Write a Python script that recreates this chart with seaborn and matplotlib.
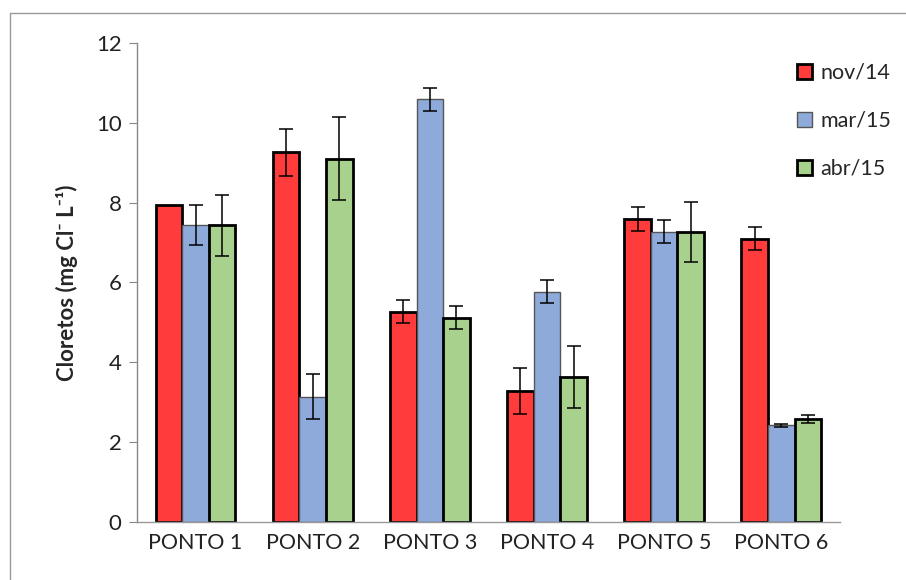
import matplotlib
matplotlib.use('Agg')
import matplotlib.pyplot as plt
from matplotlib.lines import Line2D
import numpy as np
import pandas as pd
import seaborn as sns

# Data
pontos = ['PONTO 1', 'PONTO 2', 'PONTO 3', 'PONTO 4', 'PONTO 5', 'PONTO 6']
meses = ['nov/14', 'mar/15', 'abr/15']
nov14 = [7.95, 9.26, 5.27, 3.29, 7.59, 7.10]
mar15 = [7.43, 3.14, 10.59, 5.77, 7.27, 2.42]
abr15 = [7.43, 9.10, 5.12, 3.63, 7.26, 2.58]
nov14_err = [0.0, 0.58, 0.29, 0.58, 0.29, 0.29]
mar15_err = [0.50, 0.57, 0.29, 0.28, 0.29, 0.04]
abr15_err = [0.77, 1.04, 0.29, 0.77, 0.75, 0.09]

colors = ['#FF3B3B', '#8EAADB', '#A9D18E']
edge_colors = ['black', '#555555', 'black']
edge_widths = [2.0, 1.0, 2.0]

df = pd.DataFrame({
    'ponto': pontos * 3,
    'mes': [m for m in meses for _ in pontos],
    'valor': nov14 + mar15 + abr15,
})
errs = [nov14_err, mar15_err, abr15_err]

sns.set_style('white')
plt.rcParams['font.family'] = ['Lato', 'DejaVu Sans']

fig = plt.figure(figsize=(9.06, 5.8), dpi=100)
ax = fig.add_axes([0.1512, 0.1, 0.7758, 0.8259])

sns.barplot(data=df, x='ponto', y='valor', hue='mes', order=pontos,
            hue_order=meses, palette=colors, width=0.68, errorbar=None,
            saturation=1, ax=ax, legend=False)

for cont, ec, lw, err in zip(ax.containers, edge_colors, edge_widths, errs):
    xs, ys = [], []
    for bar in cont:
        bar.set_edgecolor(ec)
        bar.set_linewidth(lw)
        xs.append(bar.get_x() + bar.get_width() / 2)
        ys.append(bar.get_height())
    e = np.array(err)
    mask = e > 0
    ax.errorbar(np.array(xs)[mask], np.array(ys)[mask], yerr=e[mask],
                fmt='none', ecolor='black', elinewidth=1.1, capsize=5,
                capthick=1.1, zorder=5)

ax.set_xlim(-0.5, 5.5)
ax.set_ylim(0, 12)
ax.set_yticks([0, 2, 4, 6, 8, 10, 12])
ax.set_xlabel('')
ax.set_ylabel('Cloretos (mg Cl⁻ L⁻¹)', fontsize=16, fontweight='bold', labelpad=13)
ax.tick_params(axis='y', labelsize=16, length=6, color='#888888', direction='out', left=True, pad=5)
ax.tick_params(axis='x', labelsize=15.5, length=0, pad=8)
for lab in ax.get_yticklabels() + ax.get_xticklabels():
    lab.set_color('#222222')

sns.despine(ax=ax)
ax.spines['left'].set_color('#888888')
ax.spines['bottom'].set_color('#999999')
ax.spines['left'].set_linewidth(1)
ax.spines['bottom'].set_linewidth(1)

handles = [plt.Rectangle((0, 0), 1, 1, facecolor=c, edgecolor=ec, linewidth=lw)
           for c, ec, lw in zip(colors, edge_colors, edge_widths)]
fig.legend(handles, meses, loc='upper left', bbox_to_anchor=(0.868, 0.91),
           frameon=False, fontsize=15.5, handlelength=0.68, handleheight=0.68,
           handletextpad=0.4, labelspacing=1.3, borderpad=0)

# outer chart border (left and top visible)
fig.add_artist(Line2D([0.011, 0.011], [0, 0.9776], color='#999999', lw=1))
fig.add_artist(Line2D([0.011, 1.0], [0.9776, 0.9776], color='#999999', lw=1))

fig.savefig('out.png', dpi=100)
